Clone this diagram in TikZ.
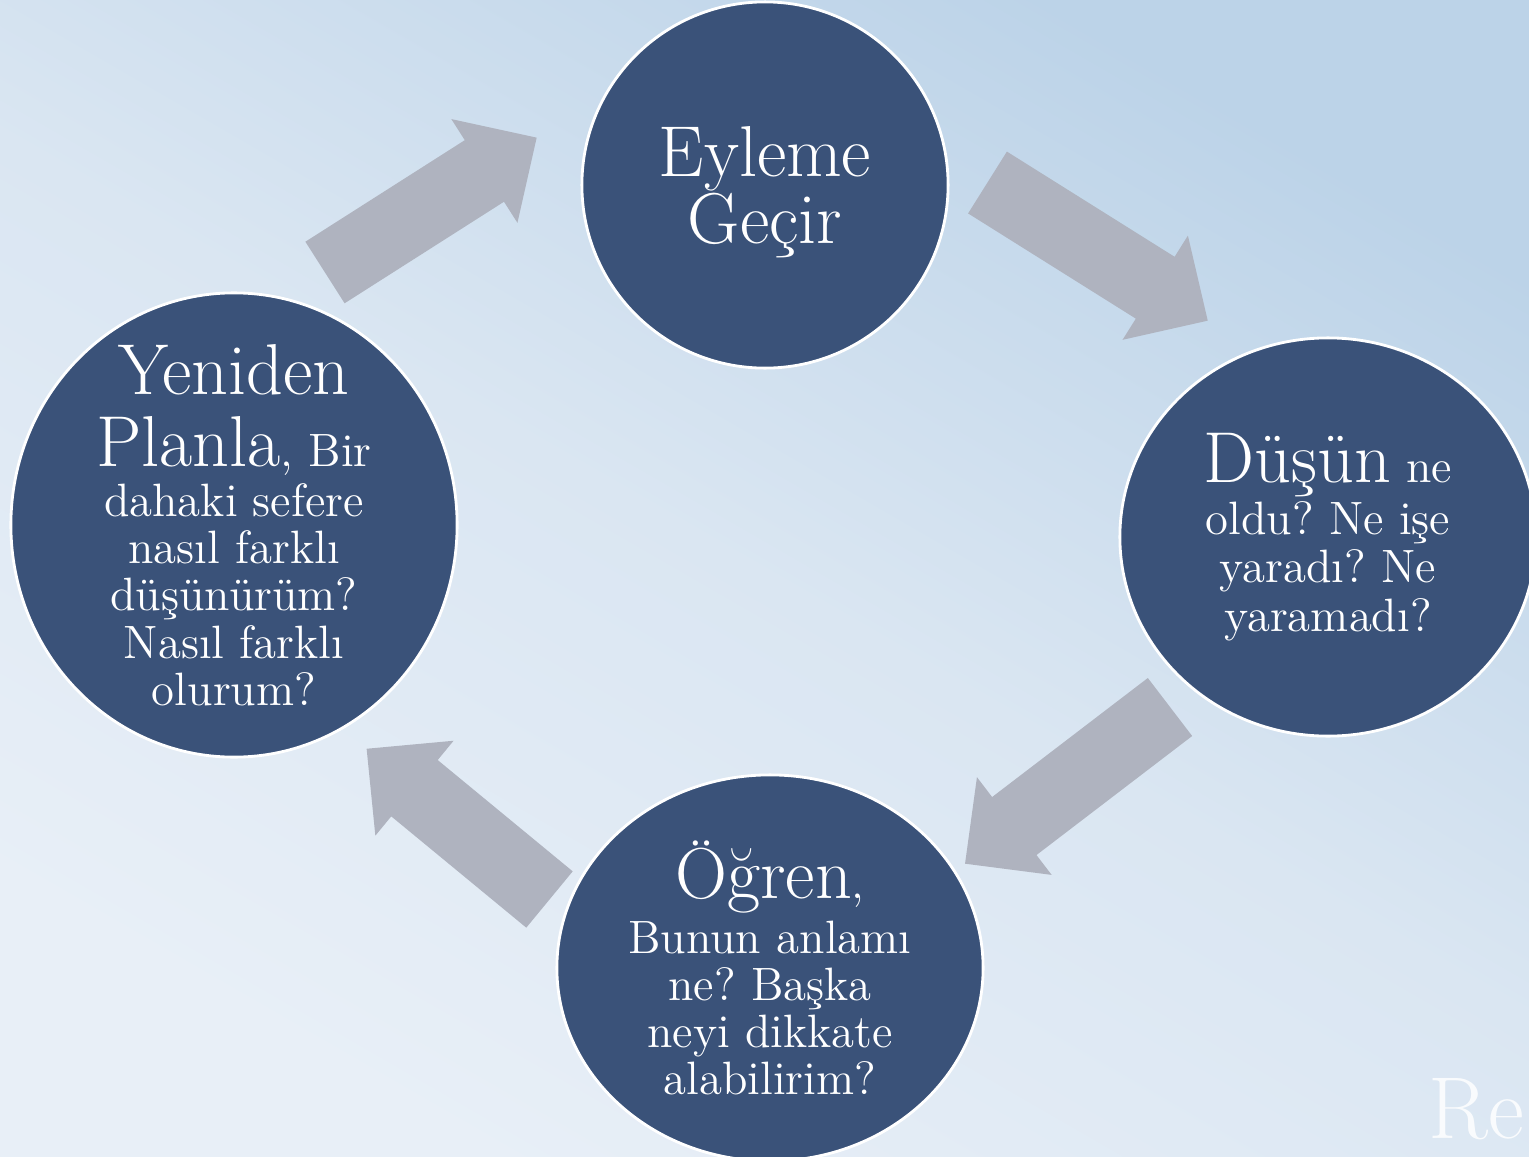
\documentclass[tikz,border=0pt]{standalone}
\usetikzlibrary{shapes.geometric}
\definecolor{stageblue}{HTML}{3A5279}
\definecolor{arrowgrey}{HTML}{AFB3BF}
\definecolor{bgtop}{HTML}{BCD3E8}
\definecolor{bgmid}{HTML}{DAE6F2}
\definecolor{bgbottom}{HTML}{E8EFF7}
\newcommand{\bigtxt}{\fontsize{20.5}{19}\selectfont}
\newcommand{\smtxt}{\fontsize{13.3}{13.4}\selectfont}
\frenchspacing
% block arrow: tail point, angle, length
\newcommand{\cyclearrow}[3]{%
\fill[arrowgrey, shift={#1}, rotate=#2] (0,-36.5) -- ({#3-62},-36.5) -- ({#3-62},-61.5) -- (#3,0) -- ({#3-62},61.5) -- ({#3-62},36.5) -- (0,36.5) -- cycle;}
\begin{document}
\begin{tikzpicture}[x=0.01cm, y=-0.01cm,
  stage/.style={ellipse, fill=stageblue, draw=white, line width=0.8pt, inner sep=0pt},
  stagetext/.style={text=white, align=center, inner sep=0pt, font=\smtxt}]
\useasboundingbox (0,0) rectangle (1529,1157);
\begin{scope}
\clip (0,0) rectangle (1529,1157);
\shade[top color=bgtop, bottom color=bgbottom, middle color=bgmid, shading angle=-30] (0,0) rectangle (1529,1157);
% arrows
\coordinate (a1) at (325,272.5);
\coordinate (a2) at (987.5,182.5);
\coordinate (a3) at (1170,707);
\coordinate (a4) at (549.5,899.5);
\cyclearrow{(a1)}{32.5}{251}
\cyclearrow{(a2)}{-32.1}{260}
\cyclearrow{(a3)}{217.4}{258}
\cyclearrow{(a4)}{140.5}{237}
% stages
\node[stage, minimum width=3.66cm, minimum height=3.66cm] (act) at (765,185) {};
\node[stage, minimum width=4.16cm, minimum height=3.98cm] (think) at (1328,537) {};
\node[stage, minimum width=4.26cm, minimum height=3.86cm] (learn) at (770,968) {};
\node[stage, minimum width=4.46cm, minimum height=4.64cm] (plan) at (234,525) {};
\node[stagetext, font=\bigtxt] (acttext) at ([yshift=-2pt]act.center) {Eyleme\\Geçir};
\node[stagetext, font=\fontsize{13.3}{13.8}\selectfont] (thinktext) at (think.center) {{\bigtxt Düşün} ne\\[1pt]oldu? Ne işe\\yaradı? Ne\\yaramadı?};
\node[stagetext] (learntext) at (learn.center) {{\bigtxt Öğren},\\[1pt]Bunun anlamı\\ne? Başka\\neyi dikkate\\alabilirim?};
\node[stagetext] (plantext) at (plan.center) {{\bigtxt Yeniden}\\[5pt]{\bigtxt Planla}, Bir\\[1pt]dahaki sefere\\nasıl farklı\\düşünürüm?\\Nasıl farklı\\olurum?};
\node[text=white, text opacity=0.85, font=\fontsize{25}{30}\selectfont, anchor=base west, inner sep=0pt] (re) at (1428,1138) {Re};
\end{scope}
\end{tikzpicture}
\end{document}
